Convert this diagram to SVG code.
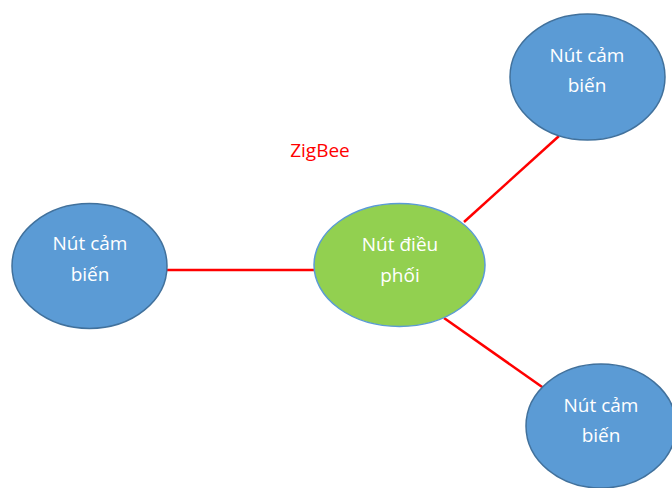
<svg xmlns="http://www.w3.org/2000/svg" width="672" height="488" viewBox="0 0 672 488">
<style>
.s{fill:#5B9BD5;stroke:#41719C;stroke-width:1.5}
.c{fill:#92D050;stroke:#5B9BD5;stroke-width:1.5}
.t{font-family:"Open Sans","Liberation Sans",sans-serif;font-size:19px;fill:#fff;text-anchor:middle}
.l{stroke:#FF0000;stroke-width:2.5;fill:none}
</style>
<rect width="672" height="488" fill="#fff"/>
<g id="connectors">
<line class="l" x1="166" y1="270" x2="315" y2="270"/>
<line class="l" x1="464" y1="222" x2="559" y2="136"/>
<line class="l" x1="444" y1="318" x2="545" y2="389"/>
</g>
<text x="320" y="157" font-family="'Open Sans','Liberation Sans',sans-serif" font-size="19" fill="#FF0000" text-anchor="middle">ZigBee</text>
<g id="sensor-top">
<ellipse class="s" cx="587.5" cy="77" rx="77.5" ry="63"/>
<text class="t" x="587" y="62">Nút cảm</text>
<text class="t" x="587" y="92">biến</text>
</g>
<g id="sensor-left">
<ellipse class="s" cx="89.5" cy="266" rx="77.5" ry="62.5"/>
<text class="t" x="90" y="250">Nút cảm</text>
<text class="t" x="90" y="281">biến</text>
</g>
<g id="coordinator">
<ellipse class="c" cx="399.5" cy="265" rx="85.5" ry="61.5"/>
<text class="t" x="400" y="251">Nút điều</text>
<text class="t" x="400" y="282">phối</text>
</g>
<g id="sensor-bottom">
<ellipse class="s" cx="601" cy="426" rx="75" ry="62"/>
<text class="t" x="601" y="412">Nút cảm</text>
<text class="t" x="601" y="442">biến</text>
</g>
</svg>
